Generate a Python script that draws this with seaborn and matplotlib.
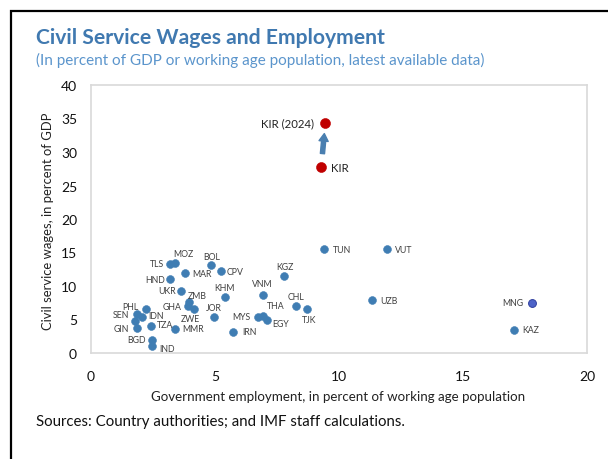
import matplotlib
matplotlib.use("Agg")
import matplotlib.pyplot as plt
import seaborn as sns
import pandas as pd
from matplotlib.patches import Rectangle

# ---- data -------------------------------------------------------------
countries = ["TLS", "MOZ", "BOL", "MAR", "CPV", "HND", "UKR", "KHM", "ZMB",
             "GHA", "ZWE", "PHL", "SEN", "IDN", "", "GIN", "TZA", "MMR",
             "JOR", "MYS", "THA", "EGY", "IRN", "BGD", "IND", "VNM", "KGZ",
             "CHL", "TJK", "TUN", "VUT", "UZB", "MNG", "KAZ"]
employment = [3.2, 3.4, 4.85, 3.78, 5.24, 3.17, 3.62, 5.4, 3.95,
              3.9, 4.15, 2.2, 1.87, 2.07, 1.76, 1.87, 2.41, 3.38,
              4.97, 6.75, 6.95, 7.1, 5.71, 2.45, 2.45, 6.92, 7.8,
              8.27, 8.7, 9.41, 11.93, 11.33, 17.8, 17.06]
wages = [13.3, 13.5, 13.2, 11.9, 12.2, 11.0, 9.3, 8.3, 7.6,
         7.0, 6.6, 6.6, 5.8, 5.3, 4.8, 3.7, 4.0, 3.6,
         5.3, 5.4, 5.5, 4.9, 3.2, 2.0, 1.0, 8.6, 11.5,
         7.0, 6.5, 15.5, 15.5, 7.9, 7.5, 3.5]

kir_labels = ["KIR", "KIR (2024)"]
kir_employment = [9.28, 9.45]
kir_wages = [27.7, 34.4]

x_ticks = [0, 5, 10, 15, 20]
y_ticks = [0, 5, 10, 15, 20, 25, 30, 35, 40]

# label placement: offset in px from the marker, horizontal alignment
label_pos = {
    "TLS": (-6, 0, "right"), "MOZ": (8, 9, "center"), "BOL": (0, 8, "center"),
    "MAR": (8, 0, "left"), "CPV": (6, 0, "left"), "HND": (-5, 0, "right"),
    "UKR": (-5, 0, "right"), "KHM": (0, 10, "center"), "ZMB": (8, 7, "center"),
    "GHA": (-6, 0, "right"), "ZWE": (-4, -10, "center"), "PHL": (-7, 2, "right"),
    "SEN": (-8, 0, "right"), "IDN": (6, 2, "left"), "GIN": (-8, 0, "right"),
    "TZA": (6, 2, "left"), "MMR": (7, 0, "left"), "JOR": (0, 10, "center"),
    "MYS": (-8, 0, "right"), "THA": (4, 11, "left"), "EGY": (5, -3, "left"),
    "IRN": (10, 0, "left"), "BGD": (-6, 0, "right"), "IND": (7, -2, "left"),
    "VNM": (0, 12, "center"), "KGZ": (0, 9, "center"), "CHL": (0, 10, "center"),
    "TJK": (2, -10, "center"), "TUN": (9, 0, "left"), "VUT": (8, 0, "left"),
    "UZB": (8, 0, "left"), "MNG": (-9, 0, "right"), "KAZ": (8, 0, "left"),
}

df = pd.DataFrame({"country": countries, "employment": employment, "wages": wages})
kir = pd.DataFrame({"country": kir_labels, "employment": kir_employment,
                    "wages": kir_wages})

# ---- style ------------------------------------------------------------
sns.set_theme(style="white")
plt.rcParams["font.family"] = ["Lato", "DejaVu Sans"]

BLUE = "#3f7db3"
RED = "#c00000"
GRID = "#d9d9d9"
TXT = "#404040"

W, H = 608, 460
fig = plt.figure(figsize=(W / 100, H / 100), dpi=100)
PX = 72 / 100  # points per pixel

left, right, top, bottom = 91, 587, 86, 354
ax = fig.add_axes([left / W, 1 - bottom / H, (right - left) / W, (bottom - top) / H])

is_mng = df["country"] == "MNG"
sns.scatterplot(data=df[~is_mng], x="employment", y="wages", ax=ax,
                color=BLUE, s=32, edgecolor=BLUE, linewidth=0.4, zorder=3)
sns.scatterplot(data=df[is_mng], x="employment", y="wages", ax=ax,
                color="#4d63c8", s=32, edgecolor="#2f3f9e", linewidth=0.7, zorder=3)
sns.scatterplot(data=kir, x="employment", y="wages", ax=ax,
                color=RED, s=52, edgecolor=RED, linewidth=0.4, zorder=3)

for name, xv, yv in zip(countries, employment, wages):
    if not name:
        continue
    dx, dy, ha = label_pos[name]
    ax.annotate(name, (xv, yv), xytext=(dx * PX, dy * PX), textcoords="offset points",
                ha=ha, va="center", fontsize=6.3, color=TXT, zorder=4)

# KIR labels and the arrow between its two observations
ax.annotate(kir_labels[0], (kir_employment[0], kir_wages[0]), xytext=(10 * PX, 0),
            textcoords="offset points", ha="left", va="center", fontsize=8.2, color="#222222")
ax.annotate(kir_labels[1], (kir_employment[1], kir_wages[1]), xytext=(-11 * PX, 0),
            textcoords="offset points", ha="right", va="center", fontsize=8.2, color="#222222")
ax.annotate("", xy=(kir_employment[1], kir_wages[1]),
            xytext=(kir_employment[0], kir_wages[0]),
            arrowprops=dict(arrowstyle="simple,head_width=0.55,head_length=0.45,tail_width=0.25",
                            color="#4a7fb0", shrinkA=10, shrinkB=8), zorder=2)

ax.set_xlim(0, 20)
ax.set_ylim(0, 40)
ax.set_xticks(x_ticks)
ax.set_yticks(y_ticks)
ax.set_xticklabels([str(t) for t in x_ticks])
ax.set_yticklabels([str(t) for t in y_ticks])
ax.tick_params(axis="both", direction="in", length=3, width=0.8, color=GRID,
               labelsize=10, labelcolor="#111111")
ax.tick_params(axis="x", pad=12)
ax.tick_params(axis="y", pad=10)
for sp in ax.spines.values():
    sp.set_color(GRID)
    sp.set_linewidth(1.2)

ax.set_xlabel("Government employment, in percent of working age population",
              fontsize=9.6, color="#222222")
ax.set_ylabel("Civil service wages, in percent of GDP", fontsize=9.4, color="#222222")
ax.xaxis.set_label_coords((338 - left) / (right - left), -(391 - bottom) / (bottom - top))
ax.yaxis.set_label_coords(-(left - 54) / (right - left), (bottom - 221) / (bottom - top))

fig.text(36 / W, 1 - 38 / H, "Civil Service Wages and Employment", fontsize=15.2,
         fontweight="bold", color="#4079b0", va="center", ha="left")
fig.text(36 / W, 1 - 60 / H,
         "(In percent of GDP or working age population, latest available data)",
         fontsize=11, color="#5b95cc", va="center", ha="left")
fig.text(36 / W, 1 - 422 / H, "Sources: Country authorities; and IMF staff calculations.",
         fontsize=10.8, color="#111111", va="center", ha="left")

# outer frame
fig.patches.append(Rectangle((11 / W, -0.05), 1.1, 1 - 12 / H + 0.05,
                             transform=fig.transFigure, fill=False,
                             edgecolor="black", linewidth=1.6))

fig.savefig("out.png", dpi=100)
